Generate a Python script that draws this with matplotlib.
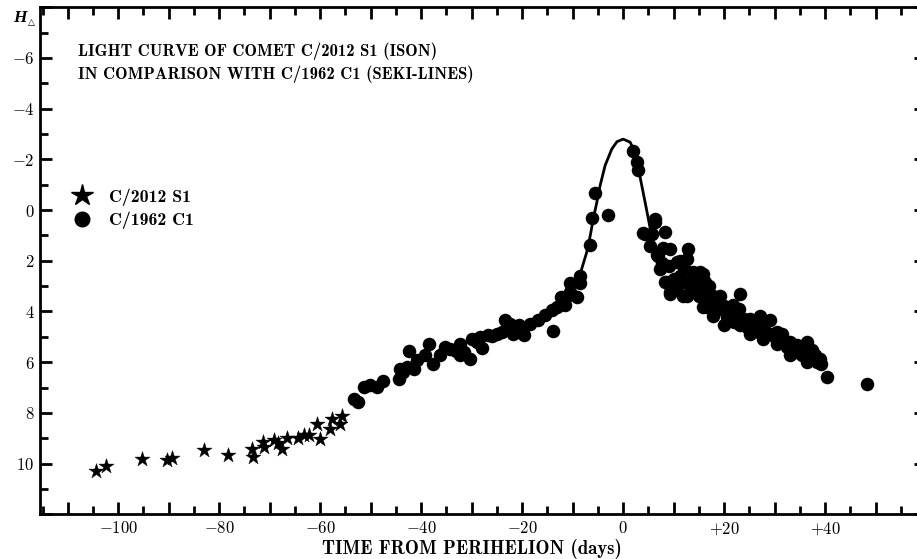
import matplotlib
matplotlib.use("Agg")
import matplotlib.pyplot as plt
from matplotlib.lines import Line2D
from matplotlib.ticker import MultipleLocator, FuncFormatter

plt.rcParams['font.family'] = ['cmb10', 'DejaVu Serif']
plt.rcParams['mathtext.fontset'] = 'cm'
plt.rcParams['mathtext.default'] = 'bf'
plt.rcParams['axes.unicode_minus'] = False

# ---- data ----
star_t = [-104.4, -102.4, -95.3, -90.4, -89.4, -83.1, -78.3, -73.5, -73.4, -71.3,
          -71.1, -69.2, -68.3, -67.6, -66.6, -64.3, -63.3, -62.3, -60.7, -60.0,
          -58.0, -57.7, -56.0, -55.7]
star_m = [10.30, 10.10, 9.80, 9.87, 9.78, 9.45, 9.65, 9.41, 9.74, 9.15,
          9.34, 9.08, 9.18, 9.41, 8.99, 8.99, 8.88, 8.88, 8.42, 9.01,
          8.62, 8.25, 8.42, 8.12]

circ_t = [-53.4, -52.6, -51.4, -50.1, -48.8, -47.5, -44.3, -44.2, -43.5, -42.8,
          -42.5, -41.5, -40.8, -39.2, -38.4, -37.6, -36.2, -35.2, -34.3, -33.0,
          -32.3, -32.3, -31.5, -30.4, -30.0, -29.0, -28.3, -27.9, -26.7, -26.0,
          -25.0, -24.0, -23.4, -22.5, -22.0, -21.8, -21.0, -20.7, -19.7, -18.4,
          -16.8, -15.4, -14.1, -13.8, -13.1,
          -12.3, -11.5, -11.1, -10.5, -10.5, -9.2, -8.5, -8.5, -6.5, -6.2,
          -5.5, -3.0,
          2.0, 2.7, 3.0, 4.0, 4.4, 5.3, 5.7, 6.3, 6.3, 6.7,
          7.0, 7.3, 7.8, 8.0, 8.3, 8.3, 8.6, 9.0, 9.3, 9.3,
          9.3, 10.0, 10.2, 10.6, 11.0, 11.3, 11.3, 11.9, 12.0, 12.2,
          12.6, 12.6, 12.9, 13.0, 13.3, 13.9, 14.0, 14.5, 15.0, 15.2,
          15.2, 15.9, 15.9, 16.0, 16.2, 16.6, 17.0, 17.2, 17.9, 17.9,
          18.0, 18.5, 19.0, 19.2, 19.9, 20.0, 20.5, 21.0, 21.5, 21.8,
          22.0, 22.5, 23.0, 23.2, 23.2, 24.0, 24.5, 25.1, 25.1, 25.5,
          26.0, 26.5, 27.0, 27.1, 27.8, 28.0, 28.5, 29.1, 29.5, 30.0,
          30.4, 30.4, 31.0, 31.5, 32.0, 32.5, 33.1, 33.1, 33.5, 34.0,
          34.4, 35.0, 35.5, 36.0, 36.4, 36.4, 37.0, 37.4, 38.0, 38.5,
          39.0, 39.3, 40.3, 48.3]
circ_m = [7.44, 7.57, 6.98, 6.91, 6.98, 6.75, 6.65, 6.26, 6.40, 6.19,
          5.57, 6.26, 5.90, 5.73, 5.27, 6.06, 5.73, 5.40, 5.47, 5.55,
          5.27, 5.73, 5.60, 5.89, 5.07, 5.20, 5.01, 5.43, 4.92, 4.95,
          4.88, 4.80, 4.35, 4.50, 4.61, 4.88, 4.80, 4.55, 4.94, 4.48,
          4.35, 4.15, 3.96, 4.75, 3.83,
          3.43, 3.76, 3.39, 3.23, 2.87, 3.43, 2.87, 2.58, 1.36, 0.31,
          -0.68, 0.21,
          -2.32, -1.89, -1.60, 0.90, 0.94, 1.40, 0.94, 0.37, 0.45, 1.79,
          1.80, 2.32, 2.10, 1.50, 0.87, 2.84, 2.84, 2.20, 1.53, 3.23,
          3.30, 2.70, 3.10, 2.05, 2.90, 1.99, 2.58, 3.37, 2.30, 2.80,
          1.92, 3.37, 1.53, 2.90, 3.23, 2.45, 3.00, 2.70, 3.40, 2.45,
          3.10, 2.51, 3.83, 3.20, 2.84, 3.83, 3.00, 3.60, 3.37, 4.16,
          3.90, 3.50, 3.90, 3.37, 4.55, 3.80, 4.20, 4.00, 4.30, 3.76,
          4.40, 4.10, 3.90, 3.30, 4.55, 4.30, 4.60, 4.29, 4.88, 4.50,
          4.70, 4.40, 4.80, 4.16, 5.07, 4.70, 4.90, 4.35, 4.90, 5.00,
          4.81, 5.27, 5.10, 4.90, 5.20, 5.40, 5.20, 5.73, 5.50, 5.60,
          5.34, 5.40, 5.70, 5.50, 5.20, 5.99, 5.80, 5.53, 5.70, 6.00,
          5.86, 6.06, 6.58, 6.85]

curve_t = [-11.0, -10.0, -9.2, -8.2, -7.2, -6.5, -5.9, -5.2, -4.55, -3.56,
           -2.24, -1.2, 0.0, 1.39, 2.38, 3.04, 3.7, 4.36, 5.0, 5.5]
curve_m = [3.40, 3.10, 2.84, 2.32, 1.66, 1.00, 0.34, -0.31, -0.97, -1.76,
           -2.41, -2.70, -2.80, -2.68, -2.28, -1.63, -0.97, -0.31, 0.34, 0.87]

x_labels = {-100: '$-100$', -80: '$-80$', -60: '$-60$', -40: '$-40$', -20: '$-20$',
            0: '$0$', 20: '$+20$', 40: '$+40$'}
y_labels = {-6: '$-6$', -4: '$-4$', -2: '$-2$', 0: '$0$', 2: '$2$', 4: '$4$',
            6: '$6$', 8: '$8$', 10: '$10$'}

title_lines = ['LIGHT CURVE OF COMET C/2012 S1 (ISON)',
               'IN COMPARISON WITH C/1962 C1 (SEKI-LINES)']
legend_labels = ['C/2012 S1', 'C/1962 C1']
xlabel = 'TIME FROM PERIHELION (days)'

# ---- figure ----
W, H = 917, 559
fig = plt.figure(figsize=(W / 100, H / 100), dpi=100)
ax = fig.add_axes([40 / W, (H - 514.3) / H, 886 / W, (514.3 - 7.3) / H])

ax.scatter(circ_t, circ_m, s=95, c='black', marker='o', linewidths=0, zorder=3)
ax.scatter(star_t, star_m, s=130, c='black', marker='*', linewidths=0.3,
           edgecolors='black', zorder=4)
ax.plot(curve_t, curve_m, color='black', lw=2.0, zorder=5, solid_capstyle='round')

ax.set_xlim(-115.5, 60)
ax.set_ylim(12, -8)

for sp in ax.spines.values():
    sp.set_linewidth(2.0)

ax.xaxis.set_major_locator(MultipleLocator(10))
ax.xaxis.set_minor_locator(MultipleLocator(5))
ax.yaxis.set_major_locator(MultipleLocator(2))
ax.yaxis.set_minor_locator(MultipleLocator(1))
ax.xaxis.set_major_formatter(FuncFormatter(lambda v, p: x_labels.get(int(round(v)), '')))
ax.yaxis.set_major_formatter(FuncFormatter(lambda v, p: y_labels.get(int(round(v)), '')))
ax.tick_params(which='both', direction='in', top=True, right=True, labelsize=12)
ax.tick_params(which='major', length=8.8, width=2.0, pad=4)
ax.tick_params(which='minor', length=5.6, width=2.0)

fig.text(471.5 / W, 1 - 549 / H, xlabel, ha='center', va='center', fontsize=13.5,
         family=['cmb10', 'DejaVu Serif'])

fig.text(78 / W, 1 - 51 / H, title_lines[0], ha='left', va='center', fontsize=12.0)
fig.text(78 / W, 1 - 74 / H, title_lines[1], ha='left', va='center', fontsize=12.0)

fig.text(13 / W, 1 - 22 / H, 'H', ha='left', va='baseline', fontsize=12.5,
         family='Liberation Serif', style='italic', weight='bold')
fig.text(27.5 / W, 1 - 24.5 / H, '\u25b3', ha='left', va='baseline', fontsize=6.5,
         family='DejaVu Sans', weight='bold')

handles = [Line2D([], [], ls='none', marker='*', markersize=16, color='black'),
           Line2D([], [], ls='none', marker='o', markersize=10.5, color='black')]
ax.legend(handles, legend_labels, loc='upper left',
          bbox_to_anchor=(73.5 / W, 1 - 188 / H), bbox_transform=fig.transFigure,
          frameon=False, fontsize=12.8, handlelength=1.0, handletextpad=1.0,
          labelspacing=0.35, borderpad=0, borderaxespad=0)

fig.savefig('out.png', dpi=100)
